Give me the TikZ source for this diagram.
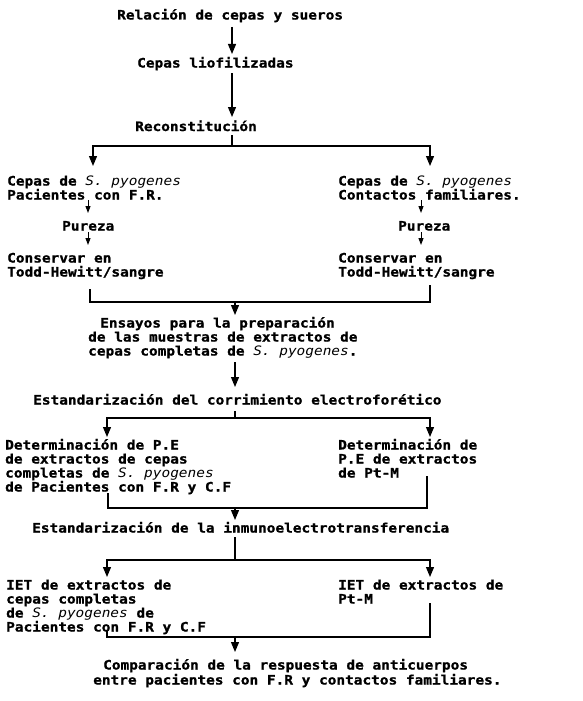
\documentclass[tikz,border=0pt]{standalone}
\usepackage{fontspec}
\newfontfamily\tw{DejaVu Sans Mono}[FakeStretch=1.11, BoldFeatures={FakeBold=1.2}]
\usetikzlibrary{arrows.meta}
\newcommand\spy{{\mdseries\itshape S. pyogenes}}
\begin{document}
\begin{tikzpicture}[x=1pt,y=-1pt,
  txt/.style={inner sep=0pt, font=\tw\bfseries\fontsize{13}{14}\selectfont, anchor=base west, align=left},
  ln/.style={line width=1.2pt},
  arr/.style={ln,-{Triangle[width=8pt,length=10pt]}},
  sarr/.style={line width=1pt,-{Triangle[width=5pt,length=7pt]}}]
\useasboundingbox (0,0) rectangle (583,701);
% texts (multi-line nodes: base anchor = baseline of last line)
\node[txt] (rel) at (117,19.5) {Relación de cepas y sueros};
\node[txt] (lio) at (137,67.5) {Cepas liofilizadas};
\node[txt] (rec) at (135,131) {Reconstitución};
\node[txt] (cl) at (7,199.5) {Cepas de \spy\\Pacientes con F.R.};
\node[txt] (pl) at (62,230.5) {Pureza};
\node[txt] (kl) at (7,276.5) {Conservar en\\Todd-Hewitt/sangre};
\node[txt] (cr) at (338,199.5) {Cepas de \spy\\Contactos familiares.};
\node[txt] (pr) at (398,230.5) {Pureza};
\node[txt] (kr) at (338,276.5) {Conservar en\\Todd-Hewitt/sangre};
\node[txt] (ens) at (88,355.5) {\hspace*{12pt}Ensayos para la preparación\\de las muestras de extractos de\\cepas completas de \spy.};
\node[txt] (est1) at (33,404.5) {Estandarización del corrimiento electroforético};
\node[txt] (detl) at (5,491.5) {Determinación de P.E\\de extractos de cepas\\completas de \spy\\de Pacientes con F.R y C.F};
\node[txt] (detr) at (338,477.5) {Determinación de\\P.E de extractos\\de Pt-M};
\node[txt] (est2) at (32,532.5) {Estandarización de la inmunoelectrotransferencia};
\node[txt] (ietl) at (6,631.5) {IET de extractos de\\cepas completas\\de \spy{} de\\Pacientes con F.R y C.F};
\node[txt] (ietr) at (338,603.5) {IET de extractos de\\Pt-M};
\node[txt, font=\tw\bfseries\fontsize{13}{15}\selectfont] (comp) at (93,684.5) {\hspace*{10pt}Comparación de la respuesta de anticuerpos\\entre pacientes con F.R y contactos familiares.};
% connector points
\coordinate (a1) at (232,27);  \coordinate (a2) at (232,54);
\coordinate (b1) at (232,73);  \coordinate (b2) at (232,117);
\coordinate (c0) at (232,135); \coordinate (cm) at (232,146);
\coordinate (cL) at (93,146);  \coordinate (cR) at (430,146);
\coordinate (cLe) at (93,166); \coordinate (cRe) at (430,166);
\coordinate (pL1) at (88,200); \coordinate (pL2) at (88,213);
\coordinate (qL1) at (88,232); \coordinate (qL2) at (88,245);
\coordinate (pR1) at (421,200); \coordinate (pR2) at (421,213);
\coordinate (qR1) at (421,232); \coordinate (qR2) at (421,245);
\coordinate (dL) at (90,289);  \coordinate (dR) at (430,285);
\coordinate (dL2) at (90,302); \coordinate (dR2) at (430,302);
\coordinate (dm) at (235,302); \coordinate (de) at (235,315);
\coordinate (e1) at (235,362); \coordinate (e2) at (235,387);
\coordinate (f0) at (235,411); \coordinate (fm) at (235,418);
\coordinate (fL) at (107,418); \coordinate (fR) at (430,418);
\coordinate (fLe) at (107,437); \coordinate (fRe) at (430,437);
\coordinate (gL) at (108,493); \coordinate (gR) at (427,476);
\coordinate (gL2) at (108,508); \coordinate (gR2) at (427,508);
\coordinate (gm) at (235,508); \coordinate (ge) at (235,520);
\coordinate (h0) at (235,537); \coordinate (hm) at (235,560);
\coordinate (hL) at (107,560); \coordinate (hR) at (430,560);
\coordinate (hLe) at (107,577); \coordinate (hRe) at (430,577);
\coordinate (iL) at (107,630); \coordinate (iR) at (430,603);
\coordinate (iL2) at (107,637); \coordinate (iR2) at (430,637);
\coordinate (im) at (235,637); \coordinate (ie) at (235,652);
% connectors
\draw[arr] (a1) -- (a2);
\draw[arr] (b1) -- (b2);
\draw[ln] (c0) -- (cm);
\draw[arr] (cm) -- (cL) -- (cLe);
\draw[arr] (cm) -- (cR) -- (cRe);
\draw[sarr] (pL1) -- (pL2);
\draw[sarr] (qL1) -- (qL2);
\draw[sarr] (pR1) -- (pR2);
\draw[sarr] (qR1) -- (qR2);
\draw[ln] (dL) -- (dL2) -- (dR2) -- (dR);
\draw[arr] (dm) -- (de);
\draw[arr] (e1) -- (e2);
\draw[ln] (f0) -- (fm);
\draw[arr] (fm) -- (fL) -- (fLe);
\draw[arr] (fm) -- (fR) -- (fRe);
\draw[ln] (gL) -- (gL2) -- (gR2) -- (gR);
\draw[arr] (gm) -- (ge);
\draw[ln] (h0) -- (hm);
\draw[arr] (hm) -- (hL) -- (hLe);
\draw[arr] (hm) -- (hR) -- (hRe);
\draw[ln] (iL) -- (iL2) -- (iR2) -- (iR);
\draw[arr] (im) -- (ie);
\end{tikzpicture}
\end{document}
